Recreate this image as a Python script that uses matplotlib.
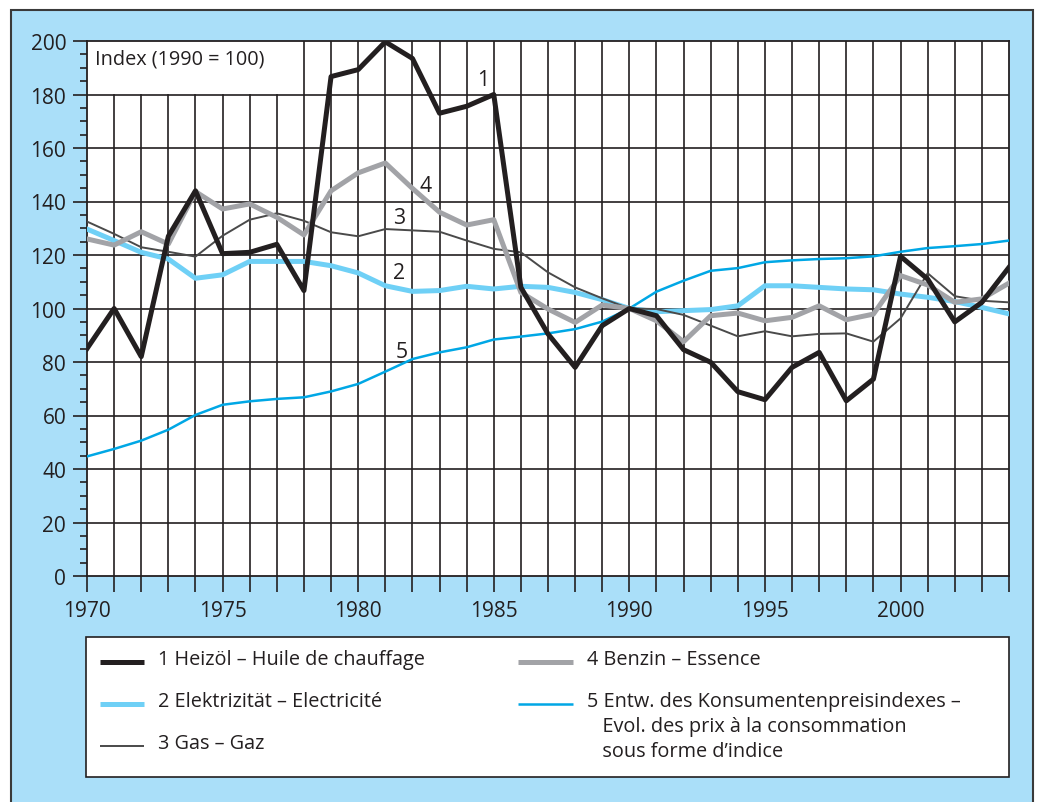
import numpy as np
import matplotlib
matplotlib.use("Agg")
import matplotlib.pyplot as plt
from matplotlib.patches import Rectangle
from matplotlib.ticker import MultipleLocator

plt.rcParams['font.family'] = ['Open Sans', 'DejaVu Sans']

# data, index 1990 = 100
years = np.arange(1970, 2005)
heizoel = [85, 100, 82, 127, 144, 120.5, 121, 124, 106.7, 186.7, 189.3, 199.7, 193.5, 173, 175.6, 180,
           107.9, 90.5, 78, 93.6, 100, 97.3, 84.6, 79.9, 68.9, 65.9, 78, 83.6, 65.5, 73.6,
           119.5, 111, 95, 102.3, 115.4]
elektrizitaet = [129.7, 125.4, 121, 118.5, 111.3, 112.6, 117.6, 117.6, 117.6, 116, 113.3, 108.5, 106.4, 106.7,
                 108.3, 107.3, 108.3, 107.9, 106, 103.3, 100, 98.8, 99.2, 99.6, 101, 108.5, 108.5, 107.9,
                 107.3, 107, 105.4, 104.2, 102.6, 100.4, 98]
gas = [132.5, 127.9, 122.9, 121.2, 119.4, 127.2, 133.2, 135.6, 132.8, 128.5, 127, 129.7, 129.2, 128.7,
       125.4, 122.3, 121, 113.5, 107.9, 103.8, 100, 99.8, 97.6, 93.6, 89.6, 91.5, 89.6, 90.5, 90.7,
       87.6, 96.3, 113.2, 104.6, 102.9, 102.3]
benzin = [126, 123.7, 128.7, 124.1, 143.7, 137.2, 139.1, 134.1, 127.5, 144, 150.7, 154.4, 144.9, 136,
          131.2, 133.2, 106, 99.8, 94.8, 101.3, 100, 95.4, 87.6, 97.3, 98.3, 95.4, 96.7, 101, 95.8,
          97.9, 112.3, 108.8, 102.3, 103.6, 109.5]
kpi = [44.7, 47.5, 50.6, 54.7, 60.2, 64, 65.3, 66.2, 66.8, 69, 71.8, 76.4, 81.1, 83.6, 85.5, 88.4,
       89.5, 90.7, 92.3, 95.1, 100, 106.3, 110.4, 114.1, 115.1, 117.3, 118, 118.5, 118.8, 119.5,
       121.2, 122.6, 123.3, 124.1, 125.4]

legend_labels = ["1 Heizöl – Huile de chauffage",
                 "2 Elektrizität – Electricité",
                 "3 Gas – Gaz",
                 "4 Benzin – Essence",
                 "5 Entw. des Konsumentenpreisindexes –\n   Evol. des prix à la consommation\n   sous forme d’indice"]

c_heiz = '#231f20'
c_elek = '#6fd0f6'
c_gas = '#4a4a4a'
c_benz = '#a2a3a7'
c_kpi = '#00a7e5'
c_bg = '#aadff9'
c_grid = '#231f20'
fs = 14.3

W, H = 1037, 803
fig = plt.figure(figsize=(W / 100, H / 100), dpi=100)
fig.patch.set_facecolor('white')

# background frame + legend box, in pixel coords
bg = fig.add_axes([0, 0, 1, 1])
bg.set_xlim(0, W)
bg.set_ylim(H, 0)
bg.axis('off')
bg.add_patch(Rectangle((11, 11), 1022, 800, facecolor=c_bg, edgecolor='#3a3a3a', lw=1.5))
bg.add_patch(Rectangle((86, 638), 923, 140, facecolor='white', edgecolor='#231f20', lw=1.2))

styles = [(c_heiz, 3.6), (c_elek, 3.6), (c_gas, 1.4), (c_benz, 3.6), (c_kpi, 1.8)]
rows = [(100, 144, 158, 663), (100, 144, 158, 705), (100, 144, 158, 747),
        (518, 573, 587, 663), (518, 573, 587, 705)]
for (col, lw), (x0, x1, xt, yy), lab in zip(styles, rows, legend_labels):
    bg.plot([x0, x1], [yy, yy], color=col, lw=lw, solid_capstyle='butt')
    bg.text(xt, yy - 12.5, lab, fontsize=fs, va='top', ha='left', color='#231f20', linespacing=1.33)

# main chart
ax = fig.add_axes([87 / W, 1 - 577 / H, 922 / W, 535 / H])
ax.set_xlim(1970, 2004)
ax.set_ylim(0, 200)
ax.set_facecolor('white')

# grid (index box covers the upper left corner)
for yr in years[1:-1]:
    top = 180 if yr < 1978 else 200
    ax.plot([yr, yr], [0, top], color=c_grid, lw=1.2, zorder=1)
for v in range(20, 200, 20):
    ax.axhline(v, color=c_grid, lw=1.2, zorder=1)

ax.plot(years, kpi, color=c_kpi, lw=1.8, zorder=3)
ax.plot(years, gas, color=c_gas, lw=1.4, zorder=4)
ax.plot(years, elektrizitaet, color=c_elek, lw=3.6, zorder=3.5)
ax.plot(years, benzin, color=c_benz, lw=3.6, zorder=5)
ax.plot(years, heizoel, color=c_heiz, lw=3.6, zorder=6)

ax.text(1970.3, 193.3, "Index (1990 = 100)", fontsize=fs, va='center', ha='left', color='#231f20')
for lab, xx, yy in [("1", 1984.6, 185.5), ("4", 1982.5, 146), ("3", 1981.5, 134),
                    ("2", 1981.5, 113.6), ("5", 1981.6, 84)]:
    ax.text(xx, yy, lab, fontsize=fs + 1, ha='center', va='center', color='#231f20', zorder=7)

for s in ax.spines.values():
    s.set_color(c_grid)
    s.set_linewidth(1.3)

ax.yaxis.set_major_locator(MultipleLocator(20))
ax.yaxis.set_minor_locator(MultipleLocator(5))
ax.xaxis.set_major_locator(MultipleLocator(5))
ax.xaxis.set_minor_locator(MultipleLocator(1))
ax.tick_params(axis='y', which='major', length=10, width=1.2, color=c_grid, pad=5, labelsize=fs + 0.7,
               labelcolor='#231f20')
ax.tick_params(axis='y', which='minor', length=5, width=1.2, color=c_grid)
ax.tick_params(axis='x', which='both', length=11.5, width=1.2, color=c_grid, pad=6, labelsize=fs + 0.7,
               labelcolor='#231f20')

fig.savefig("out.png", dpi=100, facecolor=fig.get_facecolor())
